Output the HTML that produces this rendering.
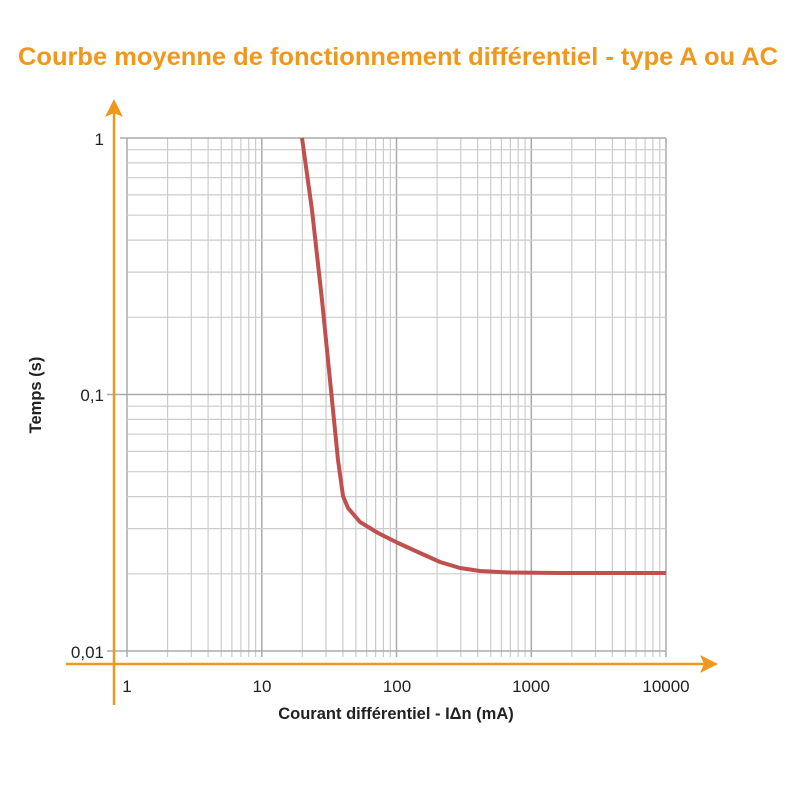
<!DOCTYPE html>
<html><head><meta charset="utf-8"><style>
html,body{margin:0;padding:0;background:#fff;}
svg{display:block;}
</style></head><body>
<svg id="s" width="800" height="800" xmlns="http://www.w3.org/2000/svg">
<text x="398" y="65" text-anchor="middle" font-family="'Liberation Sans Narrow','Liberation Sans',sans-serif" font-weight="bold" font-size="25" fill="#f0971d" textLength="760" lengthAdjust="spacingAndGlyphs">Courbe moyenne de fonctionnement différentiel - type A ou AC</text>
<g id="grid"></g>
<polyline fill="none" stroke="#c0504d" stroke-width="4" stroke-linejoin="round" points="302,138 312,210 322,300 331,390 338,460 343,496 348,508 360,522 378,533 398,543 420,553 440,562 460,568 480,571 510,572.5 560,573 666,573"/>
<line x1="66" y1="664" x2="706" y2="664" stroke="#f0971d" stroke-width="2.5"/>
<polygon points="718,664 700,655 704,664 700,673" fill="#f0971d"/>
<line x1="114" y1="705" x2="114" y2="110" stroke="#f0971d" stroke-width="2.5"/>
<polygon points="114,99 105,117 114,113 123,117" fill="#f0971d"/>
<g font-family="'Liberation Sans',sans-serif" font-size="17" fill="#222">
<text x="104" y="145" text-anchor="end">1</text>
<text x="104" y="401" text-anchor="end">0,1</text>
<text x="104" y="658" text-anchor="end">0,01</text>
<text x="127" y="692" text-anchor="middle">1</text>
<text x="262" y="692" text-anchor="middle">10</text>
<text x="397" y="692" text-anchor="middle">100</text>
<text x="531" y="692" text-anchor="middle">1000</text>
<text x="666" y="692" text-anchor="middle">10000</text>
<text x="396" y="719" text-anchor="middle" font-weight="bold" font-size="16.5">Courant différentiel - IΔn (mA)</text>
<text transform="translate(41,395) rotate(-90)" text-anchor="middle" font-weight="bold" font-size="16.5">Temps (s)</text>
</g>
</svg>
<script>
var g=document.getElementById('grid'),h='';
var x0=127,dx=134.75,y0=138,dy=256.5;
for(var d=0;d<4;d++)for(var k=1;k<10;k++){var x=x0+dx*(d+Math.log10(k));
h+='<line x1="'+x.toFixed(1)+'" y1="138" x2="'+x.toFixed(1)+'" y2="657" stroke="'+(k==1?'#aaa':'#ccc')+'" stroke-width="'+(k==1?1.5:1.2)+'"/>';}
h+='<line x1="666" y1="138" x2="666" y2="657" stroke="#aaa" stroke-width="1.5"/>';
for(var d=0;d<2;d++)for(var k=1;k<10;k++){var y=y0+dy*(d+1-Math.log10(k));
if(k==1)y=y0+dy*(d+1);
h+='<line x1="'+(k==1?107:127)+'" y1="'+y.toFixed(1)+'" x2="666" y2="'+y.toFixed(1)+'" stroke="'+(k==1?'#aaa':'#ccc')+'" stroke-width="'+(k==1?1.5:1.2)+'"/>';}
h+='<line x1="120" y1="138" x2="666" y2="138" stroke="#aaa" stroke-width="1.5"/>';
g.innerHTML=h;
</script>
</body></html>
